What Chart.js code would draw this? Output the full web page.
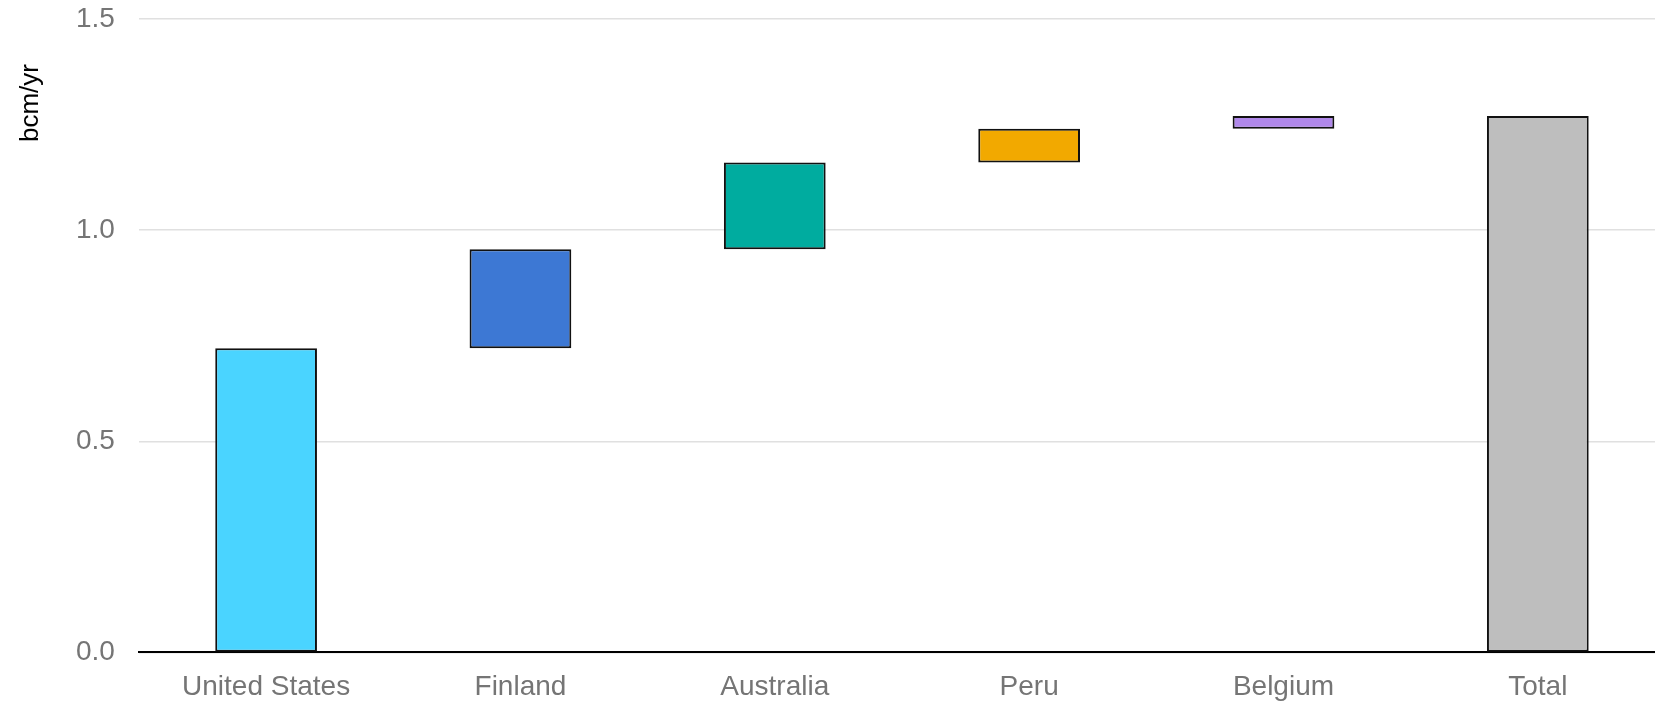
<!DOCTYPE html>
<html>
<head>
<meta charset="utf-8">
<script src="https://cdn.jsdelivr.net/npm/chart.js@4/dist/chart.umd.min.js"></script>
<style>
  html, body { margin: 0; padding: 0; background: #ffffff; overflow: hidden; }
  #wrap { width: 1665px; height: 702px; position: relative; }
</style>
</head>
<body>
<div id="wrap"><canvas id="c"></canvas></div>
<script>
const categories = ["United States", "Finland", "Australia", "Peru", "Belgium", "Total"];
const increments = [0.72, 0.235, 0.205, 0.08, 0.03];
const totalValue = 1.27;
const barColors = ["#4AD4FF", "#3D78D4", "#00AC9F", "#F2A900", "#B088EA", "#BEBEBE"];
const yTicks = [0.0, 0.5, 1.0, 1.5];
const yTitle = "bcm/yr";

// build floating ranges from increments
const ranges = [];
let run = 0;
for (const v of increments) { ranges.push([run, run + v]); run += v; }
ranges.push([0, totalValue]);

const font = "'Liberation Sans', Arial, sans-serif";

const yTitlePlugin = {
  id: 'yTitleTop',
  afterDraw(chart) {
    const ctx = chart.ctx;
    ctx.save();
    ctx.fillStyle = '#000000';
    ctx.font = "26px " + font;
    ctx.textAlign = 'center';
    ctx.textBaseline = 'middle';
    ctx.translate(31, chart.chartArea.top + 84);
    ctx.rotate(-Math.PI / 2);
    ctx.fillText(yTitle, 0, 0);
    ctx.restore();
  }
};

new Chart(document.getElementById('c'), {
  type: 'bar',
  data: {
    labels: categories,
    datasets: [{
      data: ranges,
      backgroundColor: barColors,
      borderColor: '#111111',
      borderWidth: 2,
      borderSkipped: false,
      barPercentage: 0.4,
      categoryPercentage: 1.0
    }]
  },
  plugins: [yTitlePlugin],
  options: {
    responsive: true,
    maintainAspectRatio: false,
    animation: false,
    layout: { padding: { top: 19, right: 0, bottom: -20, left: 52 } },
    plugins: { legend: { display: false }, tooltip: { enabled: false } },
    scales: {
      x: {
        grid: { display: false, drawTicks: false },
        border: { display: true, color: '#000000', width: 2 },
        ticks: { color: '#757575', font: { family: font, size: 28 }, padding: 18, maxRotation: 0 }
      },
      y: {
        min: 0, max: 1.5,
        afterBuildTicks: (axis) => { axis.ticks = yTicks.map(v => ({ value: v })); },
        afterFit: (axis) => { axis.paddingTop = 0; },
        grid: { color: '#e0e0e0', lineWidth: 1.5, drawTicks: false },
        border: { display: false },
        ticks: {
          color: '#757575', font: { family: font, size: 28 }, padding: 24,
          callback: (v) => Number(v).toFixed(1)
        }
      }
    }
  }
});
</script>
</body>
</html>
